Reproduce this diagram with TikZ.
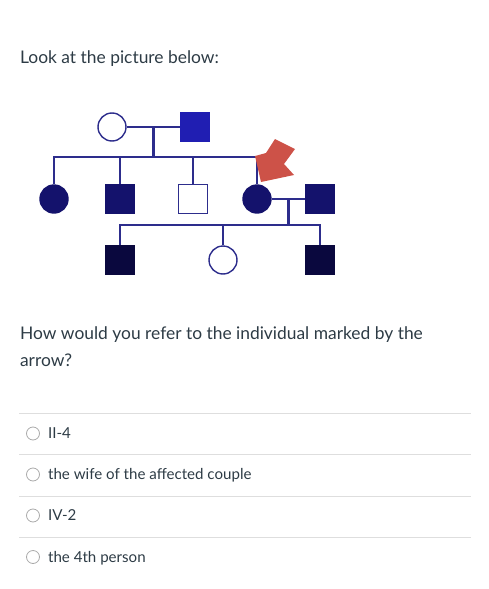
\documentclass[tikz,border=0pt]{standalone}
\usepackage{fontspec}
\setmainfont{Lato}
\usetikzlibrary{positioning,calc}
\definecolor{ink}{RGB}{45,59,69}
\definecolor{pedline}{RGB}{45,45,140}
\definecolor{affI}{RGB}{32,30,178}
\definecolor{affII}{RGB}{20,18,108}
\definecolor{affIII}{RGB}{10,8,62}
\definecolor{rulegray}{RGB}{222,222,222}
\definecolor{radiogray}{RGB}{170,170,170}
\definecolor{pointer}{RGB}{205,82,72}

\begin{document}
\begin{tikzpicture}[x=1pt,y=-1pt,on grid,line width=2.2pt,draw=pedline]
    \tikzset{female/.style={circle,draw=pedline,line width=1.4pt,fill=white,minimum size=28pt,inner sep=0pt},
      male/.style={rectangle,draw=pedline,line width=1.4pt,fill=white,minimum size=29pt,inner sep=0pt},
      aff/.style={fill=#1,draw=#1},
      qtext/.style={text=ink,font=\fontsize{17.4}{27}\selectfont,inner sep=0pt,anchor=base west},
      opt/.style={text=ink,font=\fontsize{15.1}{18}\selectfont,inner sep=0pt,anchor=base west},
      radio/.style={circle,draw=radiogray,line width=0.8pt,minimum size=13pt,inner sep=0pt},
      rule/.style={draw=rulegray,line width=0.8pt}}
    \useasboundingbox (0,0) rectangle (488,589);

    \node[qtext] (intro) at (19,63) {Look at the picture below:};

    % generation I
    \node[female] (i1) at (112,127) {};
    \node[male,aff=affI] (i2) [right = 83pt of i1] {};
    % generation II
    \node[female,aff=affII] (ii1) at (54,199) {};
    \node[male,aff=affII] (ii2) [right = 66pt of ii1] {};
    \node[male] (ii3) [right = 73pt of ii2] {};
    \node[female,aff=affII] (ii4) [right = 64pt of ii3] {};
    \node[male,aff=affII] (ii5) [right = 63pt of ii4] {};
    % generation III
    \node[male,aff=affIII] (iii1) [below = 61pt of ii2] {};
    \node[female] (iii2) [right = 103pt of iii1] {};
    \node[male,aff=affIII] (iii3) [below = 61pt of ii5] {};

    \coordinate (m1) at ($(i1)!.5!(i2)$);
    \coordinate[below = 30pt of m1] (s1);
    \coordinate (m2) at ($(ii4)!.5!(ii5)$);
    \coordinate[below = 26pt of m2] (s2);

    \draw (i1.east) -- (i2.west);
    \draw (m1) -- (s1);
    \draw (ii1.north) |- (s1) -| (ii4.north);
    \draw (ii2.north) -- (ii2 |- s1);
    \draw (ii3.north) -- (ii3 |- s1);
    \draw (ii4.east) -- (ii5.west);
    \draw (m2) -- (s2);
    \draw (iii1.north) |- (s2) -| (iii3.north);
    \draw (iii2.north) -- (iii2 |- s2);

    % the arrow at II-4
    \fill[pointer] (261,182) -- (255,156) -- (266,153) -- (275,139) -- (295,149)
      -- (284,164) -- (294,175) -- cycle;

    \node[qtext] (q1) at (19,339) {How would you refer to the individual marked by the};
    \node[qtext] (q2) at (19,366) {arrow?};

    \foreach \y in {413,454.5,496,537.5}
      \draw[rule] (19,\y) -- (471,\y);
    \foreach \y/\t [count=\i] in {433.5/II-4,474.5/the wife of the affected couple,515.5/IV-2,557/the 4th person}{
      \node[radio] (r\i) at (33,\y) {};
      \node[opt] (o\i) at (47,\y+5.3) {\t};
    }
\end{tikzpicture}
\end{document}
